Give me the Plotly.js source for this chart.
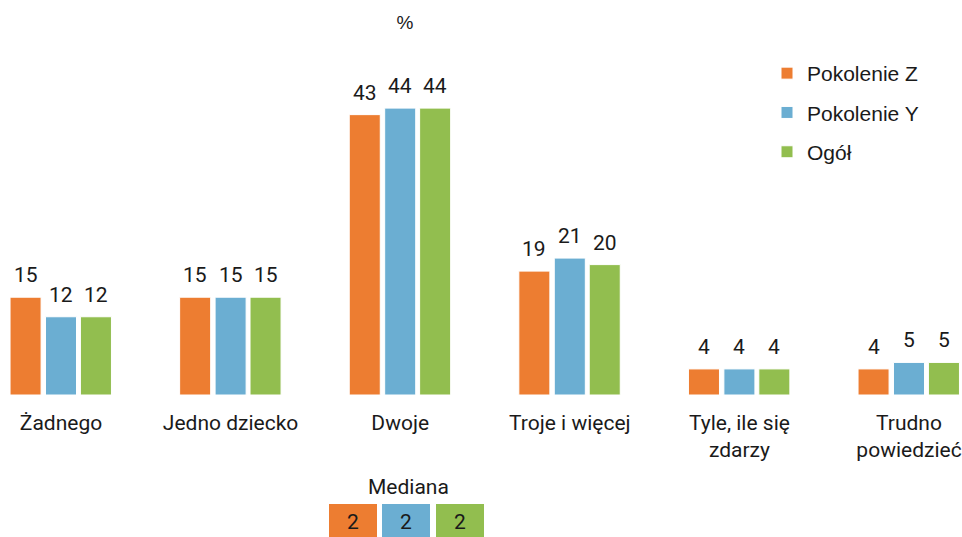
<!DOCTYPE html>
<html><head><meta charset="utf-8">
<script src="https://cdn.plot.ly/plotly-3.0.1.min.js"></script>
<style>html,body{margin:0;padding:0;background:#fff}#chart{width:962px;height:537px}</style>
</head><body><div id="chart"></div>
<script>
const categories = ["Żadnego", "Jedno dziecko", "Dwoje", "Troje i więcej", "Tyle, ile się<br>zdarzy", "Trudno<br>powiedzieć"];
const seriesNames = ["Pokolenie Z", "Pokolenie Y", "Ogół"];
const pokolenieZ = [15, 15, 43, 19, 4, 4];
const pokolenieY = [12, 15, 44, 21, 4, 5];
const ogol = [12, 15, 44, 20, 4, 5];
const medians = [2, 2, 2];
const medianLabel = "Mediana";
const unitTitle = "%";

const colors = ["#ED7D31", "#6BAED2", "#92BE4F"];
const seriesVals = [pokolenieZ, pokolenieY, ogol];
const barW = 0.183;
const centers = [-0.209, 0, 0.206];
const xIdx = categories.map((_, i) => i);
const txtFont = {family: "Roboto", size: 21, color: "#1a1a1a"};

const traces = seriesVals.map((vals, k) => ({
  type: "bar",
  name: seriesNames[k],
  x: xIdx,
  y: vals,
  width: barW,
  offset: centers[k] - barW / 2,
  marker: {color: colors[k], line: {color: "#ffffff", width: 1}},
  legendgroup: "g" + k,
  hoverinfo: "skip"
}));

const annotations = [];
seriesVals.forEach((vals, k) => {
  vals.forEach((v, i) => {
    annotations.push({
      x: i + centers[k], y: v, xref: "x", yref: "y",
      text: String(v), showarrow: false, yanchor: "bottom", yshift: 8,
      font: txtFont
    });
  });
});
annotations.push({
  x: 408 / 962, y: (395 - 487) / 326, xref: "paper", yref: "paper",
  text: medianLabel, showarrow: false, xanchor: "center", yanchor: "middle",
  font: txtFont
});
const shapes = [];
const boxLeft = [329, 382, 436];
medians.forEach((m, k) => {
  const x0 = boxLeft[k] / 962, x1 = (boxLeft[k] + 48) / 962;
  shapes.push({type: "rect", xref: "paper", yref: "paper",
    x0: x0, x1: x1, y0: (395 - 540) / 326, y1: (395 - 504) / 326,
    fillcolor: colors[k], line: {width: 0}, layer: "above"});
  annotations.push({
    x: (x0 + x1) / 2, y: (395 - 522) / 326, xref: "paper", yref: "paper",
    text: String(m), showarrow: false, xanchor: "center", yanchor: "middle",
    font: txtFont
  });
});

const layout = {
  width: 962, height: 537,
  margin: {l: 0, r: 0, t: 69, b: 142, pad: 0},
  paper_bgcolor: "#ffffff", plot_bgcolor: "#ffffff",
  title: {text: unitTitle, x: 405 / 962, xanchor: "center", y: 1 - 22 / 537, yanchor: "middle",
    font: {family: "Liberation Sans, Arial", size: 19, color: "#1a1a1a"}},
  barmode: "overlay",
  showlegend: true,
  legend: {x: 767 / 962, xanchor: "left", y: 1 + (69 - 53) / 326, yanchor: "top",
    traceorder: "grouped", tracegroupgap: 9,
    font: {family: "Liberation Sans, Arial", size: 21, color: "#1a1a1a"},
    bgcolor: "rgba(0,0,0,0)", itemclick: false},
  xaxis: {range: [-0.3597, 5.3125], tickmode: "array", tickvals: xIdx, ticktext: categories,
    showgrid: false, zeroline: false, showline: false, ticks: "",
    ticklabelstandoff: 13, ticklabeloverflow: "allow",
    tickfont: txtFont, fixedrange: true},
  yaxis: {range: [0, 50], visible: false, showgrid: false, zeroline: false, fixedrange: true},
  annotations: annotations,
  shapes: shapes
};

Plotly.newPlot("chart", traces, layout, {displayModeBar: false, staticPlot: true});
</script></body></html>
